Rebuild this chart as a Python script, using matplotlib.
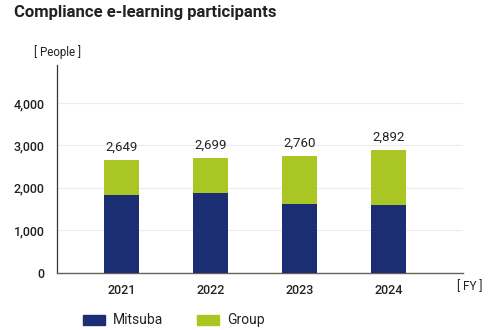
import matplotlib
matplotlib.use("Agg")
import matplotlib.pyplot as plt
from matplotlib.patches import Rectangle

years = ["2021", "2022", "2023", "2024"]
mitsuba = [1840, 1885, 1620, 1590]
totals = [2649, 2699, 2760, 2892]
group = [t - m for t, m in zip(totals, mitsuba)]
yticks = [0, 1000, 2000, 3000, 4000]

navy = "#1b2e74"
green = "#a9c625"
dark = "#222222"

plt.rcParams['font.family'] = ['Roboto', 'DejaVu Sans']

fig = plt.figure(figsize=(5, 3.3), dpi=100)
ax = fig.add_axes([0.114, 0.174, 0.812, 0.629])

x = list(range(len(years)))
w = 0.39
ax.bar(x, mitsuba, width=w, color=navy, zorder=3)
ax.bar(x, group, width=w, bottom=mitsuba, color=green, zorder=3)
for xi, t in zip(x, totals):
    ax.text(xi, t + 150, f"{t:,}", ha="center", va="bottom", fontsize=9.5, color=dark)

ax.set_xlim(-0.727, 3.835)
ax.set_ylim(0, 4900)
ax.set_yticks(yticks)
ax.set_yticklabels([f"{v:,}" for v in yticks], fontsize=9, color=dark, fontweight="medium")
ax.set_xticks(x)
ax.set_xticklabels(years, fontsize=9, color=dark, fontweight="medium")
ax.tick_params(axis="both", length=0)
ax.tick_params(axis="y", pad=9)
ax.tick_params(axis="x", pad=8)
ax.grid(axis="y", color="#ececec", linewidth=0.8, zorder=0)
for s in ["top", "right"]:
    ax.spines[s].set_visible(False)
ax.spines["left"].set_color("#3a3430")
ax.spines["bottom"].set_color("#6a605a")
ax.spines["left"].set_linewidth(0.9)
ax.spines["bottom"].set_linewidth(1.0)

fig.text(14 / 500, 1 - 12 / 330, "Compliance e-learning participants", fontsize=12,
         fontweight="bold", color=dark, ha="left", va="center")
fig.text(57 / 500, 1 - 52 / 330, "[ People ]", fontsize=8.3, color=dark, ha="center", va="center")
fig.text(470 / 500, 1 - 287 / 330, "[ FY ]", fontsize=8.5, color=dark, ha="center", va="center")

# legend
for px, label, col in [(83, "Mitsuba", navy), (197, "Group", green)]:
    fig.patches.append(Rectangle((px / 500, 1 - 325 / 330), 22 / 500, 10 / 330,
                                 transform=fig.transFigure, color=col))
    fig.text((px + 30) / 500, 1 - 320 / 330, label, fontsize=10, color=dark,
             ha="left", va="center")

fig.savefig("out.png", dpi=100)
